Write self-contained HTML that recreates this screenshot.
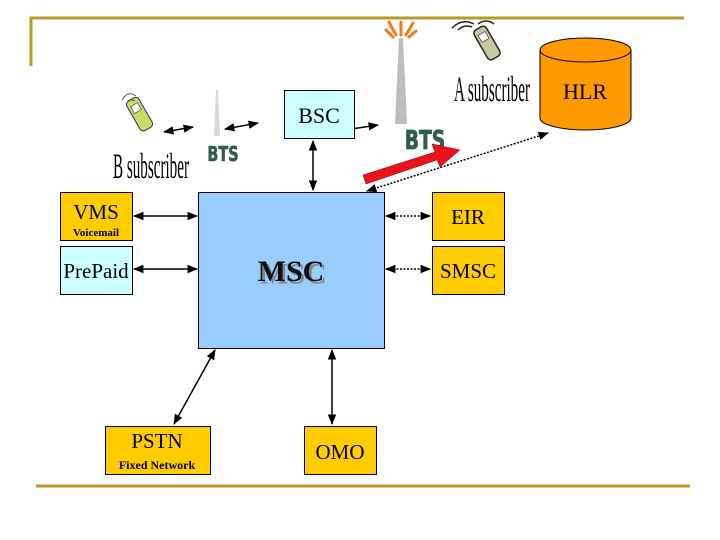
<!DOCTYPE html>
<html><head><style>html,body{margin:0;padding:0;background:#fff;}svg{display:block}</style></head>
<body>
<svg width="720" height="540" viewBox="0 0 720 540" xmlns="http://www.w3.org/2000/svg" font-family="Liberation Serif, serif">
<defs>
<marker id="a" viewBox="0 0 10 10" refX="9" refY="5" markerWidth="7" markerHeight="7" orient="auto-start-reverse"><path d="M0,1 L10,5 L0,9 z" fill="#000"/></marker>
</defs>
<line x1="30" y1="18" x2="684" y2="18" stroke="#B8992A" stroke-width="3"/>
<line x1="31" y1="17" x2="31" y2="66" stroke="#B8992A" stroke-width="3"/>
<line x1="36" y1="486" x2="690" y2="486" stroke="#B8992A" stroke-width="3"/>

<path d="M540,50 L540,118 A45.5,12 0 0 0 631,118 L631,50" fill="#FF9900" stroke="#000" stroke-width="1"/>
<ellipse cx="585.5" cy="50" rx="45.5" ry="12" fill="#FF9900" stroke="#000" stroke-width="1"/>
<text x="585" y="99" font-size="22" text-anchor="middle">HLR</text>

<polygon points="399,38 403,38 407,124 395,124" fill="#BDBDBD"/>
<g stroke="#F47A20" stroke-width="3" stroke-linecap="round">
<line x1="401" y1="35" x2="401" y2="22"/><line x1="396" y1="35" x2="389" y2="22"/><line x1="406" y1="35" x2="413" y2="23"/><line x1="393" y1="37" x2="386" y2="30"/><line x1="409" y1="37" x2="416" y2="31"/>
</g>
<text x="425" y="149" font-family="DejaVu Sans, sans-serif" font-weight="bold" font-size="26" fill="#2F5E4A" text-anchor="middle" stroke="#2F5E4A" stroke-width="0.8" transform="translate(425 0) scale(0.72 1) translate(-425 0)">BTS</text>

<polygon points="216,90 218,90 220,136 214,136" fill="#D8D8D8"/>
<text x="223" y="161" font-family="DejaVu Sans, sans-serif" font-weight="bold" font-size="20" fill="#2F5E4A" text-anchor="middle" stroke="#2F5E4A" stroke-width="0.6" transform="translate(223 0) scale(0.72 1) translate(-223 0)">BTS</text>

<g transform="translate(140,115) rotate(-30)">
<rect x="-7" y="-18" width="14" height="34" rx="4" fill="#C8DC6A" stroke="#333"/>
<rect x="-4" y="-12" width="8" height="8" fill="#fff" stroke="#333" stroke-width="0.6"/>
</g>
<path d="M122,100 q6,-10 14,-4 M126,104 q4,-6 9,-3" stroke="#555" fill="none"/>
<g transform="translate(487,43) rotate(-30)">
<rect x="-7" y="-17" width="14" height="34" rx="4" fill="#C8C8A0" stroke="#222" stroke-width="1.5"/>
<rect x="-4" y="-11" width="8" height="8" fill="#fff" stroke="#222" stroke-width="0.6"/>
</g>
<path d="M452,28 q10,-10 22,-4 M458,30 q6,-6 14,-3 M478,24 q8,-6 16,0" stroke="#222" fill="none" stroke-width="1.5"/>

<text x="151" y="178" font-size="36" text-anchor="middle" transform="translate(151 0) scale(0.42 1) translate(-151 0)">B subscriber</text>
<text x="492" y="101" font-size="36" text-anchor="middle" transform="translate(492 0) scale(0.42 1) translate(-492 0)">A subscriber</text>

<g stroke="#000" stroke-width="1.5" marker-start="url(#a)" marker-end="url(#a)">
<line x1="164" y1="132" x2="193" y2="127"/>
<line x1="225" y1="129" x2="258" y2="123"/>
<line x1="338" y1="131" x2="378" y2="125"/>
<line x1="313" y1="141" x2="313" y2="190"/>
<line x1="134" y1="216" x2="197" y2="216"/>
<line x1="134" y1="269" x2="197" y2="269"/>
<line x1="215" y1="350" x2="174" y2="424"/>
<line x1="332" y1="350" x2="332" y2="424"/>
</g>
<g stroke="#000" stroke-width="1.5" stroke-dasharray="2,1.5" marker-start="url(#a)" marker-end="url(#a)">
<line x1="386" y1="216" x2="430" y2="216"/>
<line x1="386" y1="269" x2="430" y2="269"/>
<line x1="367" y1="191" x2="548" y2="133"/>
</g>

<polygon points="363,175 435,152 432,144 460,150 440,167 437,160 366,184" fill="#E8141A" stroke="#800" stroke-width="0.5"/>

<rect x="284.5" y="90.5" width="70" height="48" fill="#CCFFFF" stroke="#000"/>
<text x="319" y="123" font-size="22" text-anchor="middle">BSC</text>

<rect x="198.5" y="192.5" width="186" height="156" fill="#99CCFF" stroke="#000"/>
<text x="292" y="282" font-size="30" font-weight="bold" text-anchor="middle" fill="#888" transform="translate(1.5 1.5)">MSC</text>
<text x="291" y="281" font-size="30" font-weight="bold" text-anchor="middle" fill="#111">MSC</text>

<rect x="60.5" y="192.5" width="72" height="48" fill="#FFCC00" stroke="#000"/>
<text x="96" y="219" font-size="21" text-anchor="middle">VMS</text>
<text x="96" y="236" font-size="11" font-weight="bold" text-anchor="middle">Voicemail</text>

<rect x="60.5" y="246.5" width="72" height="48" fill="#CCFFFF" stroke="#000"/>
<text x="96" y="278" font-size="21" text-anchor="middle">PrePaid</text>

<rect x="432.5" y="192.5" width="72" height="48" fill="#FFCC00" stroke="#000"/>
<text x="468" y="224" font-size="21" text-anchor="middle">EIR</text>

<rect x="432.5" y="246.5" width="72" height="48" fill="#FFCC00" stroke="#000"/>
<text x="468" y="278" font-size="21" text-anchor="middle">SMSC</text>

<rect x="105.5" y="426.5" width="105" height="48" fill="#FFCC00" stroke="#000"/>
<text x="157" y="448" font-size="21" text-anchor="middle">PSTN</text>
<text x="157" y="469" font-size="12" font-weight="bold" text-anchor="middle">Fixed Network</text>

<rect x="304.5" y="426.5" width="72" height="48" fill="#FFCC00" stroke="#000"/>
<text x="340" y="459" font-size="21" text-anchor="middle">OMO</text>
</svg>
</body></html>
